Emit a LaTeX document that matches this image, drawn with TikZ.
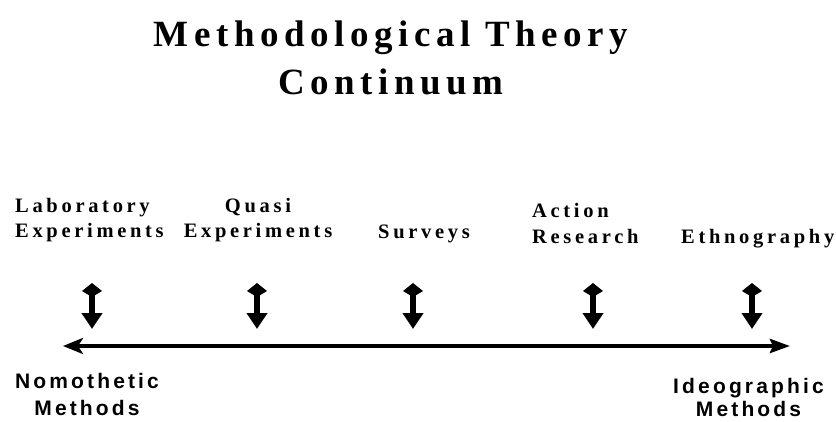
\documentclass[tikz,border=0pt]{standalone}
\usepackage{fontspec}
\usetikzlibrary{arrows.meta}
\newfontfamily\titlefont[LetterSpace=15]{Liberation Serif}
\newfontfamily\itemfont[LetterSpace=18]{Liberation Serif}
\newfontfamily\endfont[LetterSpace=15]{Liberation Sans}
\tikzset{
  titlestyle/.style={font=\titlefont\bfseries\fontsize{37}{48}\selectfont, align=center, inner sep=0pt},
  itemstyle/.style={font=\itemfont\bfseries\fontsize{20.5}{25.5}\selectfont, inner sep=0pt},
  endstyle/.style={font=\endfont\bfseries\fontsize{21}{27}\selectfont, align=center, inner sep=0pt},
  vdouble/.style={line width=5.5pt, {Kite[length=14pt,width=20pt,inset=6pt]}-{Triangle[length=16pt,width=20pt]}},
  axisline/.style={line width=4pt, {Stealth[length=20pt,width=16pt,inset=5pt]}-{Stealth[length=20pt,width=14pt,inset=3pt]}}
}
\begin{document}
\begin{tikzpicture}[x=1pt,y=-1pt]
\useasboundingbox (0,0) rectangle (836,421);
\node[titlestyle, anchor=base] (title) at (391,94) {Methodological Theory\\Continuum};

\node[itemstyle, align=left, anchor=base west] (lab) at (15,237.5) {Laboratory\\Experiments};
\node[itemstyle, align=center, anchor=base] (quasi) at (258,237.5) {Quasi\\Experiments};
\node[itemstyle, anchor=base west] (surv) at (378,238) {Surveys};
\node[itemstyle, align=left, anchor=base west] (act) at (532,243) {Action\\Research};
\node[itemstyle, anchor=base west] (eth) at (681,243) {Ethnography};

\foreach \n/\x in {a1/92, a2/257, a3/413, a4/593, a5/752}{
  \coordinate (\n t) at (\x,283);
  \coordinate (\n b) at (\x,329);
  \draw[vdouble] (\n t) -- (\n b);
}

\coordinate (L) at (63,346);
\coordinate (R) at (790,346);
\draw[axisline] (L) -- (R);

\node[endstyle, anchor=base] (nomo) at (87,415) {Nomothetic\\Methods};
\node[endstyle, anchor=base, font=\endfont\bfseries\fontsize{21}{23.5}\selectfont] (ideo) at (748.5,416.5) {Ideographic\\Methods};
\end{tikzpicture}
\end{document}
